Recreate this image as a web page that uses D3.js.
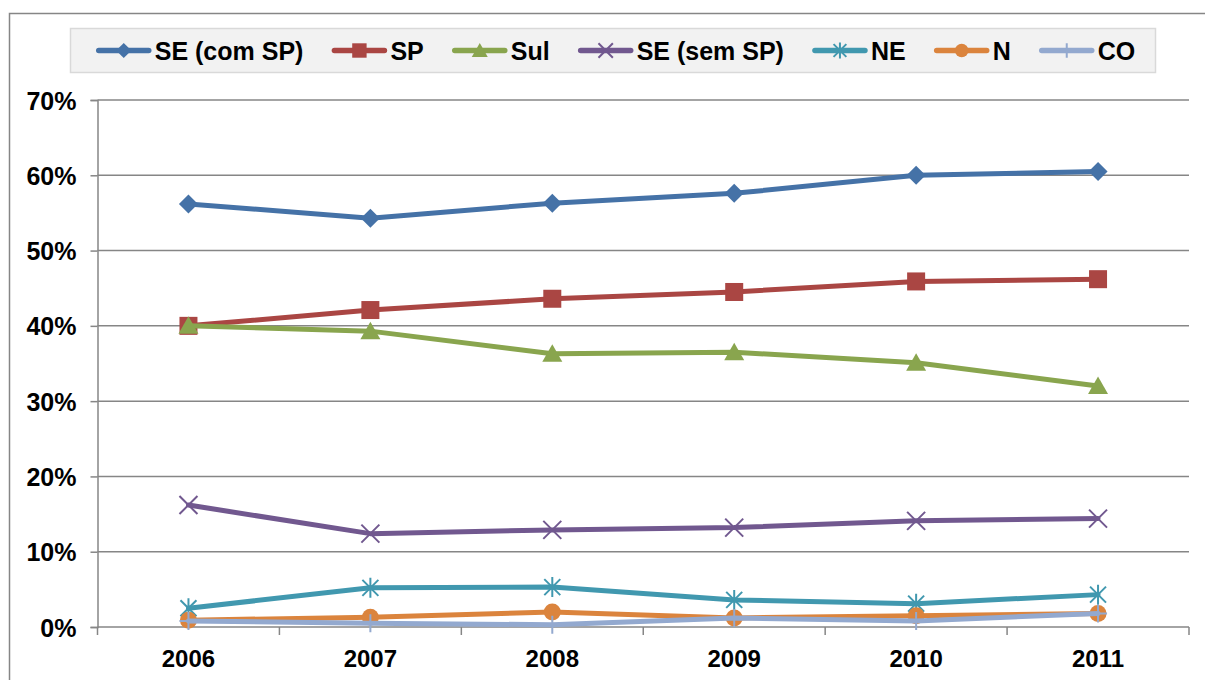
<!DOCTYPE html>
<html>
<head>
<meta charset="utf-8">
<script src="https://cdn.jsdelivr.net/npm/d3@7"></script>
<style>
  html, body { margin: 0; padding: 0; background: #ffffff; }
  svg { display: block; }
  text { font-family: "Liberation Sans", Arial, sans-serif; font-weight: bold; fill: #000; }
</style>
</head>
<body>
<svg id="chart" width="1205" height="680"></svg>
<script>
// Years on the category axis
const years = ["2006", "2007", "2008", "2009", "2010", "2011"];

// Share per region (fraction of total), one array per series
const seComSP = [0.562, 0.543, 0.563, 0.576, 0.600, 0.605];
const sp      = [0.400, 0.421, 0.436, 0.445, 0.459, 0.462];
const sul     = [0.400, 0.393, 0.363, 0.365, 0.351, 0.320];
const seSemSP = [0.162, 0.124, 0.129, 0.132, 0.141, 0.144];
const ne      = [0.025, 0.052, 0.053, 0.036, 0.031, 0.043];
const n       = [0.009, 0.013, 0.020, 0.012, 0.015, 0.018];
const co      = [0.008, 0.005, 0.003, 0.012, 0.008, 0.018];

// Value-axis ticks
const yTicks = [0, 0.1, 0.2, 0.3, 0.4, 0.5, 0.6, 0.7];

const series = [
  { name: "SE (com SP)", values: seComSP, color: "#4572a7", marker: "diamond" },
  { name: "SP",          values: sp,      color: "#aa4643", marker: "square" },
  { name: "Sul",         values: sul,     color: "#89a54e", marker: "triangle" },
  { name: "SE (sem SP)", values: seSemSP, color: "#71588f", marker: "x" },
  { name: "NE",          values: ne,      color: "#4198af", marker: "star" },
  { name: "N",           values: n,       color: "#db843d", marker: "circle" },
  { name: "CO",          values: co,      color: "#93a9cf", marker: "plus" }
];

const svg = d3.select("#chart");
const gridColor = "#868686";

// Outer chart frame (right and bottom edges run off the canvas)
svg.append("rect")
  .attr("x", 9.5).attr("y", 13.5)
  .attr("width", 1220).attr("height", 700)
  .attr("fill", "#fff").attr("stroke", gridColor).attr("stroke-width", 1.5);

const plot = { left: 97.5, right: 1189, top: 100, bottom: 627 };

const x = d3.scaleBand().domain(years).range([plot.left, plot.right]).paddingInner(0).paddingOuter(0);
const y = d3.scaleLinear().domain([0, 0.7]).range([plot.bottom, plot.top]);
const cx = d => x(d) + x.bandwidth() / 2;

// Horizontal gridlines
svg.append("g").selectAll("line").data(yTicks.slice(1)).join("line")
  .attr("x1", plot.left).attr("x2", plot.right)
  .attr("y1", d => y(d)).attr("y2", d => y(d))
  .attr("stroke", gridColor).attr("stroke-width", 1.5);

// Value axis
const yAxis = d3.axisLeft(y).tickValues(yTicks).tickSize(7).tickPadding(14)
  .tickFormat(d3.format(".0%"));
const gy = svg.append("g").attr("transform", `translate(${plot.left},0)`).call(yAxis);
gy.select(".domain").attr("stroke", gridColor).attr("stroke-width", 1.5);
gy.selectAll(".tick line").attr("stroke", gridColor).attr("stroke-width", 1.5);
gy.selectAll(".tick text").attr("font-size", 25).attr("font-family", "Liberation Sans, Arial, sans-serif")
  .attr("font-weight", "bold").attr("fill", "#000").attr("dy", "0.36em");

// Category axis: ticks sit on band boundaries, labels on band centres
const gx = svg.append("g").attr("transform", `translate(0,${plot.bottom})`);
gx.append("line").attr("x1", plot.left).attr("x2", plot.right)
  .attr("stroke", gridColor).attr("stroke-width", 1.5);
const boundaries = years.map(d => x(d)).concat([plot.right]);
gx.selectAll("line.tk").data(boundaries).join("line").attr("class", "tk")
  .attr("x1", d => d).attr("x2", d => d).attr("y1", 0).attr("y2", 8)
  .attr("stroke", gridColor).attr("stroke-width", 1.5);
gx.selectAll("text").data(years).join("text")
  .attr("x", d => cx(d)).attr("y", 40)
  .attr("text-anchor", "middle").attr("font-size", 24)
  .text(d => d);

// Marker drawing
function drawMarker(g, type, color, s) {
  // s: scale factor (1 for plot markers, smaller for legend)
  if (type === "diamond") {
    const r = 9.5 * s;
    g.append("path").attr("d", `M0,${-r}L${r},0L0,${r}L${-r},0Z`).attr("fill", color);
  } else if (type === "square") {
    const h = 9 * s;
    g.append("rect").attr("x", -h).attr("y", -h).attr("width", 2 * h).attr("height", 2 * h).attr("fill", color);
  } else if (type === "triangle") {
    const w = 10 * s, t = 9.5 * s, b = 8 * s;
    g.append("path").attr("d", `M0,${-t}L${w},${b}L${-w},${b}Z`).attr("fill", color);
  } else if (type === "circle") {
    g.append("circle").attr("r", 8.5 * s).attr("fill", color);
  } else if (type === "x") {
    const a = 9 * s;
    g.append("path").attr("d", `M${-a},${-a}L${a},${a}M${-a},${a}L${a},${-a}`)
      .attr("stroke", color).attr("stroke-width", 2).attr("fill", "none");
  } else if (type === "star") {
    const a = 8 * s, v = 10 * s;
    g.append("path").attr("d", `M${-a},${-a}L${a},${a}M${-a},${a}L${a},${-a}M0,${-v}L0,${v}`)
      .attr("stroke", color).attr("stroke-width", 2).attr("fill", "none");
  } else if (type === "plus") {
    const a = 9 * s;
    g.append("path").attr("d", `M${-a},0L${a},0M0,${-a}L0,${a}`)
      .attr("stroke", color).attr("stroke-width", 2).attr("fill", "none");
  }
}

// Series lines and markers
const line = d3.line().x((d, i) => cx(years[i])).y(d => y(d));
const gs = svg.append("g");
series.forEach(s => {
  const g = gs.append("g");
  g.append("path").datum(s.values).attr("d", line)
    .attr("fill", "none").attr("stroke", s.color).attr("stroke-width", 5)
    .attr("stroke-linejoin", "round").attr("stroke-linecap", "round");
  s.values.forEach((v, i) => {
    const m = g.append("g").attr("transform", `translate(${cx(years[i])},${y(v)})`);
    drawMarker(m, s.marker, s.color, 1);
  });
});

// Legend
const legendBox = { x: 70.5, y: 28.5, w: 1085, h: 44 };
svg.append("rect")
  .attr("x", legendBox.x).attr("y", legendBox.y)
  .attr("width", legendBox.w).attr("height", legendBox.h)
  .attr("fill", "#f2f2f2").attr("stroke", "#d9d9d9").attr("stroke-width", 1.5);

const lg = svg.append("g");
let cursor = 0;
const legendY = legendBox.y + legendBox.h / 2;
const itemGap = 29;
series.forEach((s, i) => {
  const item = lg.append("g").attr("transform", `translate(${cursor},0)`);
  item.append("line").attr("x1", 2).attr("x2", 52).attr("y1", legendY).attr("y2", legendY)
    .attr("stroke", s.color).attr("stroke-width", 5.5).attr("stroke-linecap", "round");
  const m = item.append("g").attr("transform", `translate(27,${legendY})`);
  drawMarker(m, s.marker, s.color, 0.8);
  const t = item.append("text").attr("x", 58).attr("y", legendY).attr("dy", "0.36em")
    .attr("font-size", 25).text(s.name);
  const w = t.node().getComputedTextLength();
  cursor += 58 + w + itemGap;
});
const totalW = cursor - itemGap;
lg.attr("transform", `translate(${616 - totalW / 2},0)`);
</script>
</body>
</html>
